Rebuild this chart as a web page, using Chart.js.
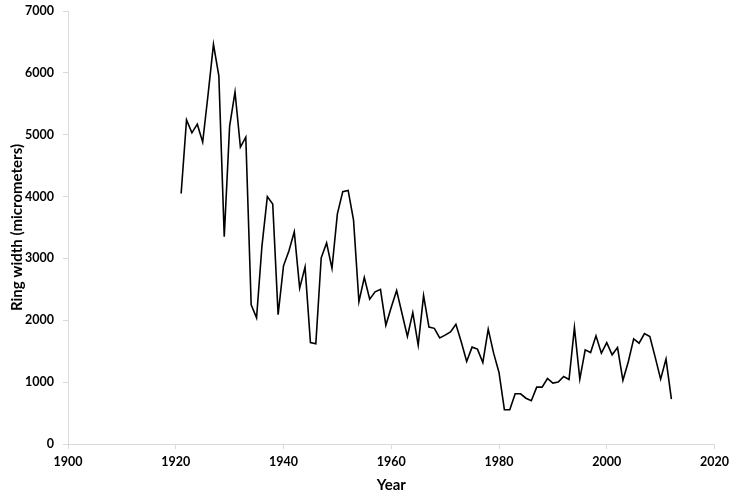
<!DOCTYPE html>
<html>
<head>
<meta charset="utf-8">
<script src="https://cdn.jsdelivr.net/npm/chart.js@4"></script>
<style>
  html, body { margin: 0; padding: 0; background: #ffffff; }
  #wrap { width: 736px; height: 502px; }
</style>
</head>
<body>
<div id="wrap"><canvas id="c" width="736" height="502"></canvas></div>
<script>
const years = [
  1921,1922,1923,1924,1925,1926,1927,1928,1929,1930,
  1931,1932,1933,1934,1935,1936,1937,1938,1939,1940,
  1941,1942,1943,1944,1945,1946,1947,1948,1949,1950,
  1951,1952,1953,1954,1955,1956,1957,1958,1959,1960,
  1961,1962,1963,1964,1965,1966,1967,1968,1969,1970,
  1971,1972,1973,1974,1975,1976,1977,1978,1979,1980,
  1981,1982,1983,1984,1985,1986,1987,1988,1989,1990,
  1991,1992,1993,1994,1995,1996,1997,1998,1999,2000,
  2001,2002,2003,2004,2005,2006,2007,2008,2009,2010,
  2011,2012
];
const ringWidth = [
  4050,5240,5030,5170,4880,5650,6460,5950,3350,5140,
  5690,4800,4960,2250,2040,3200,4000,3880,2090,2880,
  3120,3430,2520,2860,1640,1620,3010,3250,2840,3720,
  4080,4100,3620,2300,2690,2340,2460,2500,1920,2210,
  2480,2110,1740,2125,1600,2400,1890,1870,1716,1760,
  1813,1937,1650,1334,1566,1534,1318,1857,1469,1156,
  554,554,812,812,740,699,920,920,1059,985,
  1001,1091,1043,1882,1049,1522,1479,1748,1469,1640,
  1442,1560,1030,1330,1700,1630,1785,1737,1400,1049,
  1372,726
];
const xTicks = [1900, 1920, 1940, 1960, 1980, 2000, 2020];
const yTicks = [0, 1000, 2000, 3000, 4000, 5000, 6000, 7000];
const xTitle = 'Year';
const yTitle = 'Ring width (micrometers)';

const points = years.map((y, i) => ({ x: y, y: ringWidth[i] }));
const FONT = 'Lato, "Open Sans", "Liberation Sans", sans-serif';
const axisColor = '#d9d9d9';

new Chart(document.getElementById('c'), {
  type: 'line',
  data: {
    datasets: [{
      data: points,
      borderColor: '#000000',
      borderWidth: 1.6,
      pointRadius: 0,
      pointHoverRadius: 0,
      tension: 0,
      fill: false
    }]
  },
  options: {
    responsive: false,
    animation: false,
    events: [],
    layout: { padding: { top: 11, right: 21.5, bottom: 0, left: 0 } },
    plugins: { legend: { display: false }, tooltip: { enabled: false } },
    scales: {
      x: {
        type: 'linear',
        min: 1900,
        max: 2020,
        afterBuildTicks: s => { s.ticks = xTicks.map(v => ({ value: v })); },
        afterFit: s => { s.height = 58; s.paddingLeft = 0; s.paddingRight = 0; },
        ticks: {
          callback: v => String(v),
          color: '#000000',
          font: { family: FONT, size: 12.5, weight: 'bold' },
          padding: 5,
          maxRotation: 0,
          autoSkip: false
        },
        grid: { drawOnChartArea: false, drawTicks: true, tickLength: 5, color: axisColor },
        border: { display: true, color: axisColor, width: 1 },
        title: {
          display: true,
          text: xTitle,
          color: '#000000',
          font: { family: FONT, size: 15, weight: 'bold' },
          padding: { top: 0, bottom: 8 }
        }
      },
      y: {
        type: 'linear',
        min: 0,
        max: 7000,
        afterBuildTicks: s => { s.ticks = yTicks.map(v => ({ value: v })); },
        afterFit: s => { s.width = 68; s.paddingTop = 0; s.paddingBottom = 0; },
        ticks: {
          callback: v => String(v),
          color: '#000000',
          font: { family: FONT, size: 12.5, weight: 'bold' },
          padding: 9
        },
        grid: { drawOnChartArea: false, drawTicks: true, tickLength: 5, color: axisColor },
        border: { display: true, color: axisColor, width: 1 },
        title: {
          display: true,
          text: yTitle,
          color: '#000000',
          font: { family: FONT, size: 15, weight: 'bold' },
          padding: { top: 8, bottom: 0 }
        }
      }
    }
  }
});
</script>
</body>
</html>
